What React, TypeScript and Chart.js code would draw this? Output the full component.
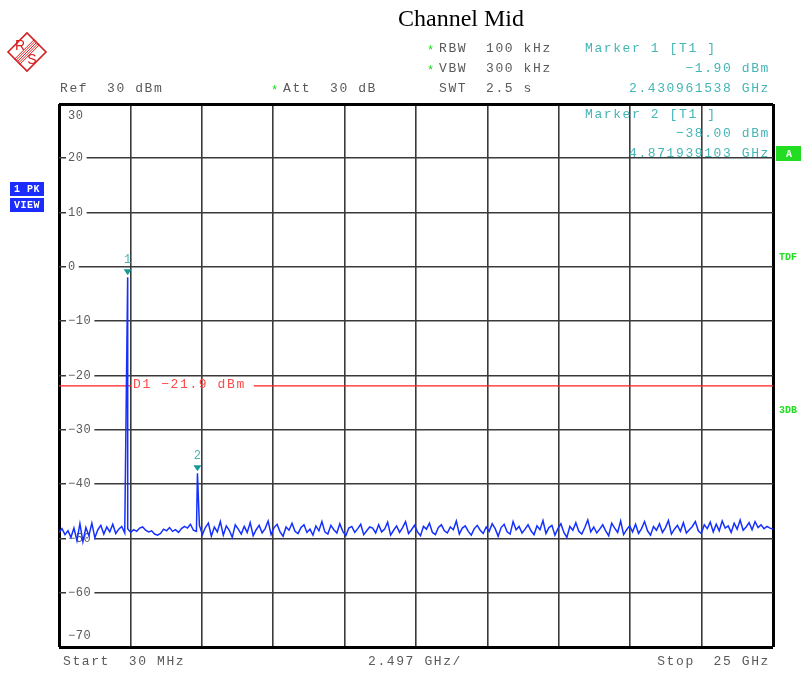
import React, { useEffect, useRef } from 'react';
import { Chart, registerables } from 'chart.js';

Chart.register(...registerables);

// sweep settings (GHz / dBm)
const START_GHZ = 0.03;
const STOP_GHZ = 25;
const DIVISIONS = 10;
const REF_LEVEL = 30;
const BOTTOM_LEVEL = -70;
const LEVEL_STEP = 10;
const DISPLAY_LINE = -21.9;

// noise floor, evenly spaced over the sweep
const noiseLevels: number[] = [
  -48.9, -48.2, -49.3, -48.6, -49.8, -48.1, -50.4, -47.3, -50.6, -48.0, -49.5, -47.2, -49.9, -48.4, -47.6, -49.2, -47.9, -48.8, -47.4, -49.1,
  -48.3, -47.8, -49.0, -48.2, -48.9, -48.4, -48.7, -48.1, -47.9, -48.5, -48.8, -48.6, -49.2, -49.4, -49.1, -48.3, -48.6, -48.0, -48.7, -48.4,
  -48.9, -48.2, -47.8, -48.1, -47.4, -48.5, -48.7, -47.6, -49.3, -48.0, -47.2, -49.6, -47.9, -48.8, -46.9, -49.4, -47.7, -48.5, -49.8, -47.5,
  -48.3, -49.2, -47.8, -48.9, -47.1, -49.5, -48.4, -47.6, -49.0, -48.2, -46.8, -49.3, -48.0, -47.4, -48.8, -49.6, -47.9, -48.5, -47.2, -48.7,
  -49.1, -48.0, -47.5, -48.9, -48.3, -49.4, -47.7, -48.6, -46.9, -48.8, -49.2, -47.6, -48.4, -49.0, -47.3, -48.7, -49.5, -48.1, -47.8, -48.9,
  -48.2, -47.4, -49.3, -48.6, -47.9, -48.1, -49.0, -47.5, -48.8, -48.3, -47.0, -49.4, -48.5, -47.7, -48.9, -48.0, -46.9, -49.1, -48.4, -47.6,
  -48.8, -49.5, -47.8, -48.3, -47.2, -48.9, -49.3, -48.0, -47.5, -48.6, -49.0, -47.9, -48.4, -46.8, -49.2, -48.1, -47.7, -48.7, -49.4, -48.2,
  -47.6, -48.5, -49.1, -47.9, -48.7, -47.3, -48.2, -49.6, -48.0, -47.4, -48.8, -49.2, -46.9, -48.4, -47.8, -49.0, -48.3, -47.5, -48.6, -49.3,
  -47.7, -48.4, -46.7, -49.1, -48.0, -47.6, -49.4, -48.2, -47.3, -48.9, -49.8, -47.8, -48.5, -47.1, -48.7, -49.2, -48.0, -46.6, -48.8, -47.9,
  -49.0, -48.3, -47.5, -48.6, -49.5, -47.2, -48.1, -48.9, -46.8, -49.3, -48.4, -47.7, -48.8, -47.4, -49.1, -48.2, -46.9, -48.6, -49.4, -47.8,
  -48.5, -47.3, -48.9, -48.0, -46.7, -49.2, -48.3, -47.6, -48.7, -47.1, -49.0, -48.4, -47.8, -46.9, -48.6, -49.1, -47.5, -48.2, -47.0, -48.8,
  -47.4, -48.6, -46.8, -48.1, -47.7, -48.9, -47.2, -48.3, -46.6, -48.5, -47.9, -47.1, -48.4, -46.9, -48.0, -47.5, -48.2, -47.8, -48.1, -48.3,
];

// markers
const markerFreqs = [2.430961538, 4.871939103];
const markerLevels = [-1.9, -38.0];
const markerNames = ['1', '2'];

const MONO = 'Liberation Mono, Courier New, monospace';
const GREY = '#5a5a5a';
const TEAL = '#45b5b5';
const SPACING = '1.6px';

const drawText = (
  ctx: CanvasRenderingContext2D,
  text: string,
  x: number,
  y: number,
  color: string,
  align: CanvasTextAlign = 'left',
  font = `13px ${MONO}`,
  spacing = SPACING
) => {
  ctx.font = font;
  (ctx as any).letterSpacing = spacing;
  ctx.fillStyle = color;
  ctx.textAlign = align;
  ctx.textBaseline = 'middle';
  ctx.fillText(text, x, y);
};

const drawLogo = (ctx: CanvasRenderingContext2D) => {
  const cx = 27, cy = 52, r = 19;
  ctx.save();
  ctx.strokeStyle = '#d42020';
  ctx.fillStyle = '#d42020';
  ctx.lineWidth = 1.6;
  ctx.beginPath();
  ctx.moveTo(cx - r, cy);
  ctx.lineTo(cx, cy - r);
  ctx.lineTo(cx + r, cy);
  ctx.lineTo(cx, cy + r);
  ctx.closePath();
  ctx.stroke();
  ctx.lineWidth = 1;
  for (let k = -2; k <= 2; k++) {
    const o = k * 1.3;
    ctx.beginPath();
    ctx.moveTo(cx - 10 + o, cy + 10 + o);
    ctx.lineTo(cx + 10 + o, cy - 10 + o);
    ctx.stroke();
  }
  ctx.font = `14px Liberation Sans, Arial, sans-serif`;
  (ctx as any).letterSpacing = '0px';
  ctx.textAlign = 'center';
  ctx.textBaseline = 'middle';
  ctx.fillText('R', cx - 7, cy - 6);
  ctx.fillText('S', cx + 5, cy + 8);
  ctx.restore();
};

const decorPlugin = {
  id: 'spectrumDecor',
  beforeDatasetsDraw(chart: any) {
    const { ctx, chartArea, scales } = chart;
    const { left, right } = chartArea;
    const y = scales.y;
    ctx.save();
    // level labels sitting on the grid
    y.ticks.forEach((t: any) => {
      const v = t.value;
      let py = y.getPixelForValue(v);
      const text = v < 0 ? `\u2212${Math.abs(v)}` : `${v}`;
      ctx.font = `12px ${MONO}`;
      (ctx as any).letterSpacing = '0.6px';
      const w = ctx.measureText(text).width;
      if (v === REF_LEVEL) py += 12;
      else if (v === BOTTOM_LEVEL) py -= 11;
      else {
        ctx.fillStyle = '#ffffff';
        ctx.fillRect(left + 7, py - 3, w + 5, 6);
      }
      drawText(ctx, text, left + 9, py, GREY, 'left', `12px ${MONO}`, '0.6px');
    });
    // display line D1
    const dy = y.getPixelForValue(DISPLAY_LINE);
    const label = `D1 ${DISPLAY_LINE < 0 ? '\u2212' : ''}${Math.abs(DISPLAY_LINE)} dBm`;
    const lx = left + 74;
    ctx.font = `13px ${MONO}`;
    (ctx as any).letterSpacing = SPACING;
    const lw = ctx.measureText(label).width;
    ctx.strokeStyle = '#ff2020';
    ctx.lineWidth = 1.2;
    ctx.beginPath();
    ctx.moveTo(left, dy);
    ctx.lineTo(lx - 2, dy);
    ctx.moveTo(lx + lw + 8, dy);
    ctx.lineTo(right, dy);
    ctx.stroke();
    drawText(ctx, label, lx, dy - 1, '#ff4a4a');
    ctx.restore();
  },
  afterDatasetsDraw(chart: any) {
    const { ctx, scales } = chart;
    ctx.save();
    markerFreqs.forEach((f, i) => {
      const px = scales.x.getPixelForValue(f);
      const py = scales.y.getPixelForValue(markerLevels[i]);
      ctx.fillStyle = '#159a9a';
      ctx.beginPath();
      ctx.moveTo(px - 4, py - 8);
      ctx.lineTo(px + 4, py - 8);
      ctx.lineTo(px, py - 2);
      ctx.closePath();
      ctx.fill();
      drawText(ctx, markerNames[i], px, py - 17, TEAL, 'center', `12px ${MONO}`, '0px');
    });
    ctx.restore();
  },
  afterDraw(chart: any) {
    const { ctx } = chart;
    ctx.save();
    // title
    drawText(ctx, 'Channel Mid', 461, 20, '#000000', 'center', `24px Liberation Serif, Times New Roman, serif`, '0px');
    drawLogo(ctx);
    // settings
    const star = (x: number, y: number) => drawText(ctx, '*', x, y + 2, '#1ed21e', 'left', `12px ${MONO}`, '0px');
    star(427, 49);
    drawText(ctx, 'RBW  100 kHz', 439, 49, GREY);
    star(427, 69);
    drawText(ctx, 'VBW  300 kHz', 439, 69, GREY);
    drawText(ctx, 'SWT  2.5 s', 439, 89, GREY);
    drawText(ctx, 'Ref  30 dBm', 60, 89, GREY);
    star(271, 89);
    drawText(ctx, 'Att  30 dB', 283, 89, GREY);
    // marker readouts
    drawText(ctx, 'Marker 1 [T1 ]', 585, 49, TEAL);
    drawText(ctx, '\u22121.90 dBm', 770, 69, TEAL, 'right');
    drawText(ctx, '2.430961538 GHz', 770, 89, TEAL, 'right');
    drawText(ctx, 'Marker 2 [T1 ]', 585, 115, TEAL);
    drawText(ctx, '\u221238.00 dBm', 770, 134, TEAL, 'right');
    drawText(ctx, '4.871939103 GHz', 770, 154, TEAL, 'right');
    // bottom line
    drawText(ctx, 'Start  30 MHz', 63, 662, GREY);
    drawText(ctx, '2.497 GHz/', 368, 662, GREY);
    drawText(ctx, 'Stop  25 GHz', 770, 662, GREY, 'right');
    // side annotations
    ctx.fillStyle = '#22dd22';
    ctx.fillRect(776, 146, 25, 15);
    drawText(ctx, 'A', 789, 154, '#ffffff', 'center', `bold 10px ${MONO}`, '0px');
    drawText(ctx, 'TDF', 779, 257, '#22dd22', 'left', `bold 10px ${MONO}`, '0px');
    drawText(ctx, '3DB', 779, 410, '#22dd22', 'left', `bold 10px ${MONO}`, '0px');
    ctx.fillStyle = '#1a2cff';
    ctx.fillRect(10, 182, 34, 14);
    ctx.fillRect(10, 198, 34, 14);
    drawText(ctx, '1 PK', 27, 189, '#ffffff', 'center', `bold 10px ${MONO}`, '0.5px');
    drawText(ctx, 'VIEW', 27, 205, '#ffffff', 'center', `bold 10px ${MONO}`, '0.5px');
    ctx.restore();
  },
};

const App: React.FC = () => {
  const canvasRef = useRef<HTMLCanvasElement>(null);

  useEffect(() => {
    if (!canvasRef.current) return;
    const ctx = canvasRef.current.getContext('2d');
    if (!ctx) return;

    const step = (STOP_GHZ - START_GHZ) / (noiseLevels.length - 1);
    const trace = noiseLevels.map((level, i) => ({ x: START_GHZ + i * step, y: level }));
    markerFreqs.forEach((f, i) => trace.push({ x: f, y: markerLevels[i] }));
    trace.sort((a, b) => a.x - b.x);

    const div = (STOP_GHZ - START_GHZ) / DIVISIONS;
    const edge = (c: any) => (c.index === 0 || c.index === DIVISIONS ? 3 : 1.6);
    const edgeColor = (c: any) => (c.index === 0 || c.index === DIVISIONS ? '#000000' : '#3a3a3a');

    const chart = new Chart(ctx, {
      type: 'line',
      data: {
        datasets: [
          {
            data: trace,
            borderColor: '#1430ff',
            borderWidth: 1.5,
            pointRadius: 0,
            tension: 0,
          },
        ],
      },
      options: {
        responsive: false,
        animation: false,
        events: [],
        layout: { padding: { left: 59, right: 30, top: 104, bottom: 26 } },
        plugins: { legend: { display: false }, tooltip: { enabled: false } },
        scales: {
          x: {
            type: 'linear',
            min: START_GHZ,
            max: STOP_GHZ,
            afterBuildTicks: (scale: any) => {
              scale.ticks = Array.from({ length: DIVISIONS + 1 }, (_, i) => ({ value: START_GHZ + i * div }));
            },
            ticks: { display: false },
            grid: { drawTicks: false, lineWidth: edge, color: edgeColor },
            border: { display: false },
          },
          y: {
            min: BOTTOM_LEVEL,
            max: REF_LEVEL,
            ticks: { display: false, stepSize: LEVEL_STEP },
            grid: { drawTicks: false, lineWidth: edge, color: edgeColor },
            border: { display: false },
          },
        },
      },
      plugins: [decorPlugin],
    });

    return () => {
      chart.destroy();
    };
  }, []);

  return (
    <div style={{ position: 'fixed', left: 0, top: 0, width: 803, height: 673, background: '#fff' }}>
      <canvas ref={canvasRef} width={803} height={673} style={{ width: 803, height: 673 }} />
    </div>
  );
};

export default App;
